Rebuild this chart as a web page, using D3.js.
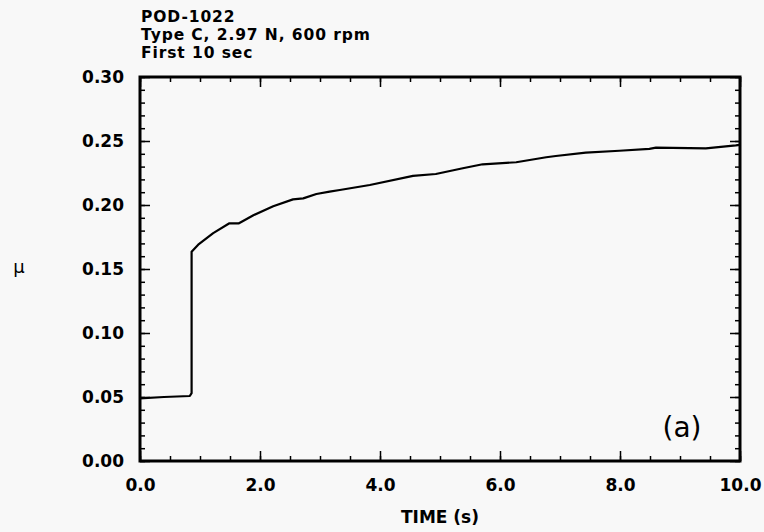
<html>
<head>
<style>
  body { margin: 0; background: #f8f8f8; }
  text { font-family: "DejaVu Sans", sans-serif; fill: #000; }
</style>
</head>
<body>
<svg id="cont" width="764" height="532"></svg>
<script src="https://cdn.jsdelivr.net/npm/d3@7"></script>
<script>
// values
var time = [0, 0.4, 0.83, 0.86, 0.86, 0.97, 1.22, 1.49, 1.65, 1.89, 2.22, 2.55, 2.72, 2.94, 3.16, 3.33,
            3.83, 4.55, 4.93, 5.38, 5.71, 6.27, 6.77, 6.93, 7.43, 7.99, 8.49, 8.6, 9.43, 9.93, 10.0];
var mu = [0.049, 0.050, 0.0508, 0.053, 0.1635, 0.169, 0.178, 0.1857, 0.1857, 0.192, 0.199, 0.2044, 0.2052,
          0.2086, 0.2104, 0.2117, 0.2156, 0.2227, 0.2242, 0.2287, 0.2318, 0.2334, 0.2373, 0.2383, 0.2409,
          0.2424, 0.2438, 0.2448, 0.2443, 0.2466, 0.2470];

var xMajor = [0, 2, 4, 6, 8, 10];
var yMajor = [0, 0.05, 0.10, 0.15, 0.20, 0.25, 0.30];
var titleLines = ["POD-1022", "Type C, 2.97 N, 600 rpm", "First 10 sec"];

var svg = d3.select("#cont");
var mLeft = 140, mTop = 77, w = 600, h = 384;

var x = d3.scaleLinear().domain([0, 10]).range([0, w]);
var y = d3.scaleLinear().domain([0, 0.30]).range([h, 0]);

var g = svg.append("g").attr("transform", "translate(" + mLeft + "," + mTop + ")");

var xMinor = d3.range(0, 10.01, 0.5);
var yMinor = d3.range(0, 0.3001, 0.01);

function styleAxis(sel) {
    sel.attr("font-family", null).attr("font-size", null);
    sel.select(".domain").remove();
    sel.selectAll("line").attr("stroke", "#000").attr("stroke-width", 1.5);
    sel.selectAll("text").style("font-size", "17px").style("font-weight", "bold");
}

// minor ticks on all four sides
g.append("g").attr("transform", "translate(0," + h + ")")
    .call(d3.axisBottom(x).tickValues(xMinor).tickSize(-5).tickFormat("")).call(styleAxis);
g.append("g")
    .call(d3.axisTop(x).tickValues(xMinor).tickSize(-5).tickFormat("")).call(styleAxis);
g.append("g")
    .call(d3.axisLeft(y).tickValues(yMinor).tickSize(-5).tickFormat("")).call(styleAxis);
g.append("g").attr("transform", "translate(" + w + ",0)")
    .call(d3.axisRight(y).tickValues(yMinor).tickSize(-5).tickFormat("")).call(styleAxis);

// major ticks + labels
g.append("g").attr("transform", "translate(0," + h + ")")
    .call(d3.axisBottom(x).tickValues(xMajor).tickSize(-10).tickPadding(18).tickFormat(d3.format(".1f")))
    .call(styleAxis);
g.append("g")
    .call(d3.axisTop(x).tickValues(xMajor).tickSize(-10).tickFormat("")).call(styleAxis);
g.append("g")
    .call(d3.axisLeft(y).tickValues(yMajor).tickSize(-10).tickPadding(16).tickFormat(d3.format(".2f")))
    .call(styleAxis);
g.append("g").attr("transform", "translate(" + w + ",0)")
    .call(d3.axisRight(y).tickValues(yMajor).tickSize(-10).tickFormat("")).call(styleAxis);

// frame
g.append("rect")
    .attr("width", w).attr("height", h)
    .attr("fill", "none").attr("stroke", "#000").attr("stroke-width", 3);

// trace
var line = d3.line().x((d, i) => x(time[i])).y(d => y(d));
g.append("path")
    .attr("d", line(mu))
    .attr("fill", "none").attr("stroke", "#000").attr("stroke-width", 2.2)
    .attr("stroke-linejoin", "round");

// title
svg.selectAll(".title").data(titleLines).enter().append("text")
    .attr("x", 141).attr("y", (d, i) => 22 + i * 18)
    .style("font-size", "15.5px").style("font-weight", "bold")
    .style("letter-spacing", "0.9px")
    .text(d => d);

// axis titles
svg.append("text")
    .attr("x", mLeft + w / 2).attr("y", 523)
    .attr("text-anchor", "middle")
    .style("font-size", "17px").style("font-weight", "bold")
    .text("TIME (s)");

svg.append("text")
    .attr("x", 19).attr("y", 273)
    .attr("text-anchor", "middle")
    .style("font-size", "18px")
    .text("μ");

// panel mark
svg.append("text")
    .attr("x", 682).attr("y", 437)
    .attr("text-anchor", "middle")
    .style("font-size", "28px")
    .text("(a)");
</script>
</body>
</html>
